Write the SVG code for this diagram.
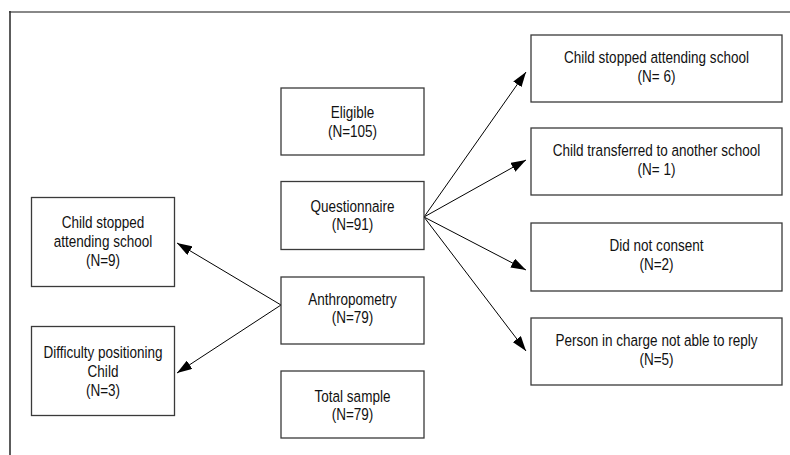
<svg xmlns="http://www.w3.org/2000/svg" width="790" height="455" viewBox="0 0 790 455">
<style>
.box{fill:#fff;stroke:#3a3a3a;stroke-width:1.3}
.t{font-family:"Liberation Sans",Arial,sans-serif;font-size:16.5px;fill:#111;text-anchor:middle}
.c{stroke:#000;stroke-width:1;fill:none;marker-end:url(#ah)}
</style>
<defs>
<marker id="ah" markerUnits="userSpaceOnUse" markerWidth="15" markerHeight="10" refX="15" refY="5" orient="auto">
<path d="M0,0 L15,5 L0,10 z" fill="#000"/>
</marker>
</defs>
<rect width="790" height="455" fill="#fff"/>
<g id="frame">
<line x1="9" y1="12" x2="790" y2="12" stroke="#888" stroke-width="2"/>
<line x1="10" y1="11" x2="10" y2="455" stroke="#333" stroke-width="1.6"/>
</g>
<g id="connectors">
<line class="c" x1="424" y1="217" x2="526" y2="72"/>
<line class="c" x1="424" y1="217" x2="526" y2="160"/>
<line class="c" x1="424" y1="217" x2="526" y2="270"/>
<line class="c" x1="424" y1="217" x2="526" y2="351"/>
<line class="c" x1="281" y1="305" x2="177" y2="243"/>
<line class="c" x1="281" y1="305" x2="177" y2="373"/>
</g>
<g id="eligible">
<rect class="box" x="281" y="88" width="143" height="67"/>
<g transform="translate(352.5,0) scale(0.82,1)">
<text class="t" x="0" y="118.5">Eligible</text>
<text class="t" x="0" y="137.5">(N=105)</text>
</g>
</g>
<g id="questionnaire">
<rect class="box" x="281" y="181.5" width="143" height="68"/>
<g transform="translate(352.5,0) scale(0.82,1)">
<text class="t" x="0" y="212.5">Questionnaire</text>
<text class="t" x="0" y="230.5">(N=91)</text>
</g>
</g>
<g id="anthropometry">
<rect class="box" x="281" y="277" width="143" height="67"/>
<g transform="translate(352.5,0) scale(0.82,1)">
<text class="t" x="0" y="305.5">Anthropometry</text>
<text class="t" x="0" y="323.5">(N=79)</text>
</g>
</g>
<g id="total">
<rect class="box" x="281" y="371" width="143" height="67"/>
<g transform="translate(352.5,0) scale(0.82,1)">
<text class="t" x="0" y="402.5">Total sample</text>
<text class="t" x="0" y="420.5">(N=79)</text>
</g>
</g>
<g id="left-stopped">
<rect class="box" x="31.5" y="197.5" width="143" height="89"/>
<g transform="translate(103,0) scale(0.82,1)">
<text class="t" x="0" y="228">Child stopped</text>
<text class="t" x="0" y="247">attending school</text>
<text class="t" x="0" y="266">(N=9)</text>
</g>
</g>
<g id="left-difficulty">
<rect class="box" x="31.5" y="326.5" width="143" height="89"/>
<g transform="translate(103,0) scale(0.82,1)">
<text class="t" x="0" y="358.5">Difficulty positioning</text>
<text class="t" x="0" y="377.5">Child</text>
<text class="t" x="0" y="396.5">(N=3)</text>
</g>
</g>
<g id="right-stopped">
<rect class="box" x="531" y="35" width="251" height="67"/>
<g transform="translate(656.5,0) scale(0.82,1)">
<text class="t" x="0" y="63.5">Child stopped attending school</text>
<text class="t" x="0" y="82.5">(N= 6)</text>
</g>
</g>
<g id="right-transferred">
<rect class="box" x="531" y="128" width="251" height="67"/>
<g transform="translate(656.5,0) scale(0.82,1)">
<text class="t" x="0" y="156.5">Child transferred to another school</text>
<text class="t" x="0" y="175.5">(N= 1)</text>
</g>
</g>
<g id="right-consent">
<rect class="box" x="531" y="223" width="251" height="68"/>
<g transform="translate(656.5,0) scale(0.82,1)">
<text class="t" x="0" y="251.5">Did not consent</text>
<text class="t" x="0" y="270.5">(N=2)</text>
</g>
</g>
<g id="right-person">
<rect class="box" x="531" y="318" width="251" height="67"/>
<g transform="translate(656.5,0) scale(0.82,1)">
<text class="t" x="0" y="346.5">Person in charge not able to reply</text>
<text class="t" x="0" y="365.5">(N=5)</text>
</g>
</g>
</svg>
